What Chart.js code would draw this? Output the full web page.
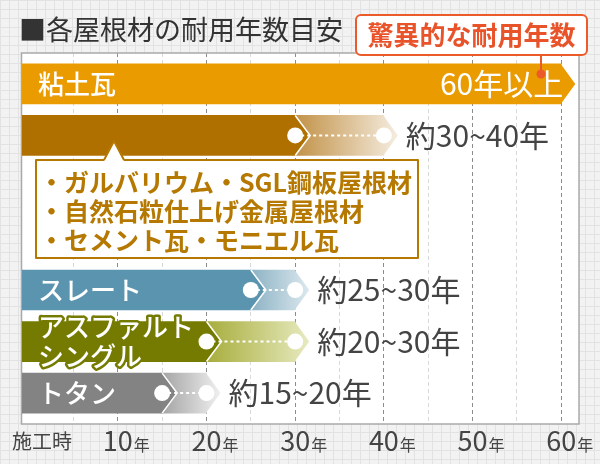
<!DOCTYPE html>
<html lang="ja">
<head>
<meta charset="UTF-8" />
<title>各屋根材の耐用年数目安</title>
<script src="https://cdn.jsdelivr.net/npm/chart.js@4.4.1/dist/chart.umd.min.js"></script>
<style>
  html, body { margin: 0; padding: 0; }
  body {
    width: 600px; height: 464px; overflow: hidden;
    background-color: #f2f2f2;
    background-image: linear-gradient(#e2e2e2 1px, transparent 1px), linear-gradient(90deg, #e2e2e2 1px, transparent 1px);
    background-size: 9px 9px;
  }
  canvas { display: block; }
</style>
</head>
<body>
<canvas id="roof-chart" width="600" height="464"></canvas>
<script>
const FONT = '"Noto Sans CJK JP", "Noto Sans", sans-serif';

// データ
const title = '■各屋根材の耐用年数目安';
const badgeText = '驚異的な耐用年数';
const categories = ['粘土瓦', '', '', '', 'スレート', 'アスファルト\nシングル', 'トタン'];
const yearsFrom = [60, 30, null, null, 25, 20, 15];
const yearsTo = [null, 40, null, null, 30, 30, 20];
const rangeText = ['60年以上', '約30~40年', '', '', '約25~30年', '約20~30年', '約15~20年'];
const calloutItems = ['・ガルバリウム・SGL鋼板屋根材', '・自然石粒仕上げ金属屋根材', '・セメント瓦・モニエル瓦'];
const xTicks = [5, 10, 15, 20, 25, 30, 35, 40, 45, 50, 55, 60];
const originLabel = '施工時';

// 色
const solidColors = ['#e99b00', '#b07000', null, null, '#5b94ae', '#757b00', '#838383'];
const fadeFrom = [null, '#c29248', null, null, '#8cb2c4', '#a7ad3c', '#a4a4a4'];
const fadeTo = [null, '#f5ede0', null, null, '#dbe8ee', '#e7eabf', '#f0f0f0'];

const TIP = 14;
const X_MIN = -0.8, X_MAX = 62;
const Y_MIN = -0.6, Y_MAX = 6.6;

const rows = categories.map((c, i) => i);
const solidData = rows.filter(i => yearsFrom[i] != null).map(i => ({ y: i, x: yearsFrom[i] }));
const fadeData = rows.filter(i => yearsTo[i] != null).map(i => ({ y: i, x: [yearsFrom[i], yearsTo[i]] }));

function fadeFill(c) {
  const chart = c.chart;
  const i = c.raw ? c.raw.y : 1;
  const xs = chart.scales.x;
  if (!chart.chartArea || !xs || fadeFrom[i] == null) return '#ddd';
  const g = chart.ctx.createLinearGradient(xs.getPixelForValue(yearsFrom[i]), 0, xs.getPixelForValue(yearsTo[i]) + TIP, 0);
  g.addColorStop(0, fadeFrom[i]);
  g.addColorStop(1, fadeTo[i]);
  return g;
}

const decor = {
  id: 'decor',
  beforeDraw(chart) {
    const { ctx, chartArea: a } = chart;
    ctx.save();
    ctx.fillStyle = '#fff';
    ctx.fillRect(a.left, a.top, a.right - a.left, a.bottom - a.top);
    // title
    ctx.fillStyle = '#333';
    ctx.font = '27px ' + FONT;
    ctx.textBaseline = 'middle';
    ctx.fillText(title, 19, 30);
    ctx.restore();
  },
  beforeDatasetsDraw(chart) {
    const { ctx, chartArea: a } = chart;
    ctx.save();
    ctx.strokeStyle = '#a9a9a9';
    ctx.lineWidth = 1.5;
    ctx.strokeRect(a.left - 0.5, a.top, a.right - a.left + 0.5, a.bottom - a.top);
    ctx.restore();
  },
  afterDatasetDraw(chart, args) {
    const ctx = chart.ctx;
    const ds = chart.data.datasets[args.index];
    args.meta.data.forEach((el, j) => {
      const i = ds.data[j].y;
      const h = el.height / 2;
      ctx.save();
      ctx.beginPath();
      ctx.moveTo(el.x - 0.5, el.y - h);
      ctx.lineTo(el.x + TIP, el.y);
      ctx.lineTo(el.x - 0.5, el.y + h);
      ctx.closePath();
      ctx.fillStyle = el.options.backgroundColor;
      ctx.fill();
      if (args.index === 0 && yearsTo[i] != null) {
        ctx.beginPath();
        ctx.moveTo(el.x, el.y - h);
        ctx.lineTo(el.x + TIP + 1, el.y);
        ctx.lineTo(el.x, el.y + h);
        ctx.strokeStyle = '#fff';
        ctx.lineWidth = 1.5;
        ctx.stroke();
      }
      ctx.restore();
    });
  },
  afterDatasetsDraw(chart) {
    const { ctx, chartArea: a } = chart;
    const xs = chart.scales.x, ys = chart.scales.y;
    ctx.save();
    rows.forEach(i => {
      if (yearsFrom[i] == null) return;
      const y = ys.getPixelForValue(i);
      // name on the bar
      if (categories[i]) {
        const lines = categories[i].split('\n');
        ctx.font = '500 26px ' + FONT;
        ctx.textBaseline = 'middle';
        ctx.textAlign = 'left';
        const y0 = y - (lines.length - 1) * 14.5;
        lines.forEach((t, k) => {
          if (lines.length > 1) {
            ctx.lineJoin = 'round';
            ctx.lineWidth = 5;
            ctx.strokeStyle = solidColors[i];
            ctx.strokeText(t, a.left + 16, y0 + k * 29);
          }
          ctx.fillStyle = '#fff';
          ctx.fillText(t, a.left + 16, y0 + k * 29);
        });
      }
      if (yearsTo[i] == null) {
        ctx.font = '30px ' + FONT;
        ctx.fillStyle = '#fff';
        ctx.textAlign = 'right';
        ctx.fillText(rangeText[i], xs.getPixelForValue(yearsFrom[i]) + 2, y);
        return;
      }
      const x1 = xs.getPixelForValue(yearsFrom[i]);
      const x2 = xs.getPixelForValue(yearsTo[i]);
      ctx.strokeStyle = '#fff';
      ctx.lineWidth = 2;
      ctx.setLineDash([3, 3]);
      ctx.beginPath();
      ctx.moveTo(x1, y);
      ctx.lineTo(x2, y);
      ctx.stroke();
      ctx.setLineDash([]);
      ctx.fillStyle = '#fff';
      [x1, x2].forEach(x => {
        ctx.beginPath();
        ctx.arc(x, y, 8, 0, Math.PI * 2);
        ctx.fill();
      });
      ctx.font = '30px ' + FONT;
      ctx.fillStyle = '#444';
      ctx.textAlign = 'left';
      ctx.fillText(rangeText[i], x2 + TIP + 8, y);
    });

    // callout for the metal / cement row
    const brown = '#b57800';
    const bx = 36, by = 160, bw = 382, bh = 98;
    ctx.fillStyle = '#fff';
    ctx.strokeStyle = brown;
    ctx.lineWidth = 2;
    ctx.fillRect(bx, by, bw, bh);
    ctx.strokeRect(bx, by, bw, bh);
    ctx.beginPath();
    ctx.moveTo(104, by + 1);
    ctx.lineTo(114, 141);
    ctx.lineTo(124, by + 1);
    ctx.closePath();
    ctx.fill();
    ctx.beginPath();
    ctx.moveTo(104, by);
    ctx.lineTo(114, 141);
    ctx.lineTo(124, by);
    ctx.stroke();
    ctx.fillStyle = brown;
    ctx.font = 'bold 25px ' + FONT;
    ctx.textAlign = 'left';
    ctx.textBaseline = 'middle';
    calloutItems.forEach((t, k) => ctx.fillText(t, 39, 182 + k * 29));

    // badge
    const red = '#ec5a2a';
    ctx.strokeStyle = red;
    ctx.lineWidth = 2;
    ctx.beginPath();
    ctx.moveTo(541, 55);
    ctx.lineTo(541, 73);
    ctx.stroke();
    ctx.fillStyle = red;
    ctx.beginPath();
    ctx.arc(541, 74, 4.5, 0, Math.PI * 2);
    ctx.fill();
    ctx.beginPath();
    ctx.roundRect(356, 15, 231, 40, 5);
    ctx.fillStyle = '#fff';
    ctx.fill();
    ctx.stroke();
    ctx.fillStyle = '#e8532a';
    ctx.font = 'bold 26px ' + FONT;
    ctx.textAlign = 'center';
    ctx.fillText(badgeText, 471.5, 35);
    ctx.restore();
  },
  afterDraw(chart) {
    const { ctx, chartArea: a } = chart;
    const xs = chart.scales.x;
    ctx.save();
    ctx.fillStyle = '#444';
    ctx.textBaseline = 'alphabetic';
    xTicks.filter(v => v % 10 === 0).forEach(v => {
      ctx.font = '27px ' + FONT;
      const w = ctx.measureText(String(v)).width;
      ctx.font = '16px ' + FONT;
      ctx.textAlign = 'left';
      ctx.fillText('年', xs.getPixelForValue(v) + w / 2 + 1, a.bottom + 27);
    });
    ctx.font = '20px ' + FONT;
    ctx.textAlign = 'center';
    ctx.textBaseline = 'middle';
    ctx.fillText(originLabel, 42, a.bottom + 17);
    ctx.restore();
  }
};

new Chart(document.getElementById('roof-chart'), {
  type: 'bar',
  data: {
    datasets: [
      {
        label: '耐用年数（目安）',
        data: solidData,
        base: X_MIN,
        backgroundColor: c => solidColors[c.raw ? c.raw.y : 0],
        grouped: false,
        barThickness: 40,
        borderWidth: 0
      },
      {
        label: '幅',
        data: fadeData,
        backgroundColor: fadeFill,
        grouped: false,
        barThickness: 40,
        borderWidth: 0
      }
    ]
  },
  options: {
    indexAxis: 'y',
    responsive: false,
    animation: false,
    events: [],
    layout: { padding: { left: 22, right: 21, top: 53, bottom: 0 } },
    plugins: { legend: { display: false }, tooltip: { enabled: false } },
    scales: {
      y: {
        type: 'linear',
        reverse: true,
        offset: false,
        bounds: 'data',
        min: Y_MIN,
        max: Y_MAX,
        afterDataLimits: s => { s.min = Y_MIN; s.max = Y_MAX; },
        display: false
      },
      x: {
        type: 'linear',
        min: X_MIN,
        max: X_MAX,
        afterBuildTicks: s => { s.ticks = xTicks.map(v => ({ value: v })); },
        afterFit: s => { s.height = 40; },
        grid: {
          color: c => (c.tick && c.tick.value % 10 === 0) ? '#8c8c8c' : '#d9d9d9',
          lineWidth: 1,
          drawTicks: false
        },
        border: { display: false, dash: [4, 3] },
        ticks: {
          autoSkip: false,
          maxRotation: 0,
          padding: 1,
          color: '#444',
          font: { family: FONT, size: 27 },
          callback: v => (v % 10 === 0 ? String(v) : '')
        }
      }
    }
  },
  plugins: [decor]
});
</script>
</body>
</html>
